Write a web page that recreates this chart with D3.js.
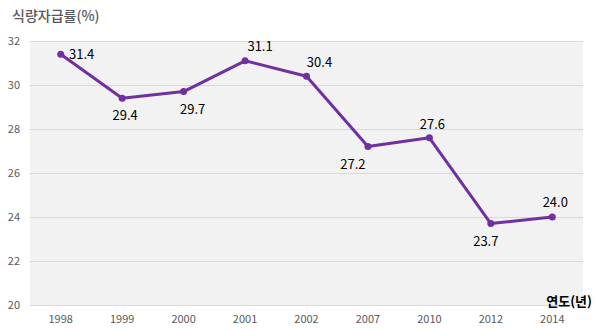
<!DOCTYPE html>
<html>
<head>
<meta charset="utf-8">
<script src="https://cdn.jsdelivr.net/npm/d3@7"></script>
<style>
  body { margin: 0; background: #fff; }
  svg text { font-family: "Noto Sans CJK KR", "Noto Sans", sans-serif; }
</style>
</head>
<body>
<svg id="chart"></svg>
<script>
// data
const years = ["1998", "1999", "2000", "2001", "2002", "2007", "2010", "2012", "2014"];
const rates = [31.4, 29.4, 29.7, 31.1, 30.4, 27.2, 27.6, 23.7, 24.0];
const yTicks = [20, 22, 24, 26, 28, 30, 32];

// label placement (dx, dy from the point)
const labelOffsets = [[21, 5], [3, 22], [9, 22], [15, -10], [13, -9], [-15, 22], [3, -9], [-5, 22], [3, -10]];

const width = 595, height = 330;
const margin = { top: 41, right: 12, bottom: 25, left: 30 };

const svg = d3.select("#chart")
    .attr("width", width)
    .attr("height", height);

const x = d3.scaleBand()
    .domain(years)
    .range([margin.left, width - margin.right]);

const y = d3.scaleLinear()
    .domain([20, 32])
    .range([height - margin.bottom, margin.top]);

// plot background
svg.append("rect")
    .attr("x", margin.left)
    .attr("y", margin.top)
    .attr("width", width - margin.left - margin.right)
    .attr("height", height - margin.top - margin.bottom)
    .attr("fill", "#f2f2f2");

// gridlines
svg.append("g")
    .selectAll("line")
    .data(yTicks)
    .join("line")
    .attr("x1", margin.left)
    .attr("x2", width - margin.right)
    .attr("y1", d => y(d) + 0.5)
    .attr("y2", d => y(d) + 0.5)
    .attr("stroke", "#d9d9d9")
    .attr("stroke-width", 1);

// y axis labels
const yAxis = svg.append("g")
    .attr("transform", `translate(${margin.left}, 0)`)
    .call(d3.axisLeft(y).tickValues(yTicks).tickSize(0).tickPadding(10));
yAxis.select(".domain").remove();
yAxis.selectAll("text")
    .attr("fill", "#595959")
    .style("font-size", "11px");

// x axis labels
const xAxis = svg.append("g")
    .attr("transform", `translate(0, ${height - margin.bottom})`)
    .call(d3.axisBottom(x).tickSize(0).tickPadding(10));
xAxis.select(".domain").remove();
xAxis.selectAll("text")
    .attr("fill", "#595959")
    .style("font-size", "11px");

const cx = (d, i) => x(years[i]) + x.bandwidth() / 2;

// line
const line = d3.line()
    .x((d, i) => cx(d, i))
    .y(d => y(d));

svg.append("path")
    .datum(rates)
    .attr("d", line)
    .attr("fill", "none")
    .attr("stroke", "#7030a0")
    .attr("stroke-width", 3)
    .attr("stroke-linejoin", "round");

svg.append("g")
    .selectAll("circle")
    .data(rates)
    .join("circle")
    .attr("cx", cx)
    .attr("cy", d => y(d))
    .attr("r", 3.5)
    .attr("fill", "#7030a0");

// value labels
svg.append("g")
    .selectAll("text")
    .data(rates)
    .join("text")
    .attr("x", (d, i) => cx(d, i) + labelOffsets[i][0])
    .attr("y", (d, i) => y(d) + labelOffsets[i][1])
    .attr("text-anchor", "middle")
    .attr("fill", "#000")
    .style("font-size", "13px")
    .text(d => d.toFixed(1));

// titles
svg.append("text")
    .attr("x", 12)
    .attr("y", 21)
    .attr("fill", "#595959")
    .style("font-size", "14px")
    .style("font-weight", "500")
    .text("식량자급률(%)");

svg.append("text")
    .attr("x", 592)
    .attr("y", 306)
    .attr("text-anchor", "end")
    .attr("fill", "#000")
    .style("font-size", "13px")
    .style("font-weight", "bold")
    .text("연도(년)");
</script>
</body>
</html>
